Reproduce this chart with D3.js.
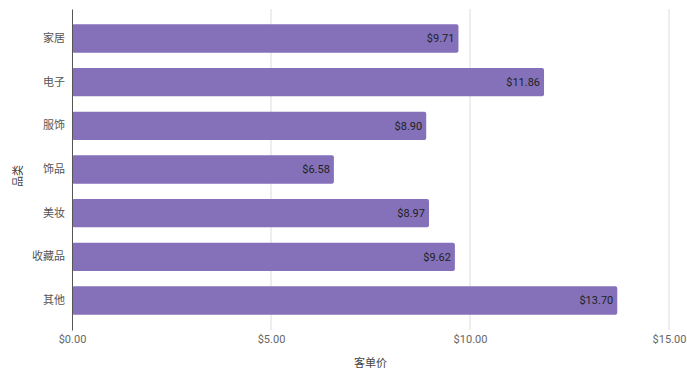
<!DOCTYPE html>
<html>
<head>
<meta charset="utf-8">
<script src="https://cdn.jsdelivr.net/npm/d3@7"></script>
<style>
  body { margin: 0; background: #fff; }
  svg text { font-family: Roboto, "Noto Sans CJK SC", sans-serif; }
</style>
</head>
<body>
<div id="chart"></div>
<script>
const categories = ['家居', '电子', '服饰', '饰品', '美妆', '收藏品', '其他'];
const values = [9.71, 11.86, 8.90, 6.58, 8.97, 9.62, 13.70];
const xTicks = [0, 5, 10, 15];

const width = 687, height = 373;
const margin = {top: 9, right: 18, bottom: 43, left: 72};

const svg = d3.select('#chart').append('svg')
  .attr('width', width)
  .attr('height', height);

const x = d3.scaleLinear()
  .domain([0, 15])
  .range([margin.left, width - margin.right]);

const y = d3.scaleBand()
  .domain(categories)
  .range([margin.top, height - margin.bottom])
  .padding(0.35);

const fmt = d => '$' + d3.format('.2f')(d);

// grid lines
svg.append('g')
  .selectAll('line')
  .data(xTicks.filter(d => d > 0))
  .enter()
  .append('line')
  .attr('x1', d => x(d)).attr('x2', d => x(d))
  .attr('y1', margin.top).attr('y2', height - margin.bottom)
  .style('stroke', '#dcdcdc')
  .style('stroke-width', 1);

// x axis
const xAxis = svg.append('g')
  .attr('transform', `translate(0,${height - margin.bottom})`)
  .call(d3.axisBottom(x).tickValues(xTicks).tickFormat(fmt).tickSize(0).tickPadding(5));
xAxis.select('.domain').remove();
xAxis.selectAll('text').style('font-size', '11px').style('fill', '#666');

// bars
const rows = categories.map((c, i) => ({cat: c, val: values[i]}));

svg.append('g')
  .selectAll('rect')
  .data(rows)
  .enter()
  .append('rect')
  .attr('x', x(0))
  .attr('y', d => y(d.cat))
  .attr('width', d => x(d.val) - x(0))
  .attr('height', y.bandwidth())
  .attr('rx', 2)
  .style('fill', '#8471b9');

svg.append('g')
  .selectAll('text')
  .data(rows)
  .enter()
  .append('text')
  .attr('x', d => x(d.val) - 4)
  .attr('y', d => y(d.cat) + y.bandwidth() / 2)
  .attr('dy', '0.35em')
  .attr('text-anchor', 'end')
  .style('font-size', '11px')
  .style('fill', '#222')
  .text(d => fmt(d.val));

// y axis
const yAxis = svg.append('g')
  .attr('transform', `translate(${margin.left},0)`)
  .call(d3.axisLeft(y).tickSize(0).tickPadding(7).tickSizeOuter(0));
yAxis.select('.domain').style('stroke', '#555');
yAxis.selectAll('text').style('font-size', '11px').style('fill', '#555');

// titles
svg.append('text')
  .attr('x', (margin.left + width - margin.right) / 2)
  .attr('y', 367)
  .attr('text-anchor', 'middle')
  .style('font-size', '11px')
  .style('fill', '#444')
  .text('客单价');

svg.append('text')
  .attr('transform', 'translate(22,176) rotate(-90)')
  .attr('text-anchor', 'middle')
  .style('font-size', '11px')
  .style('fill', '#444')
  .text('品类');
</script>
</body>
</html>
